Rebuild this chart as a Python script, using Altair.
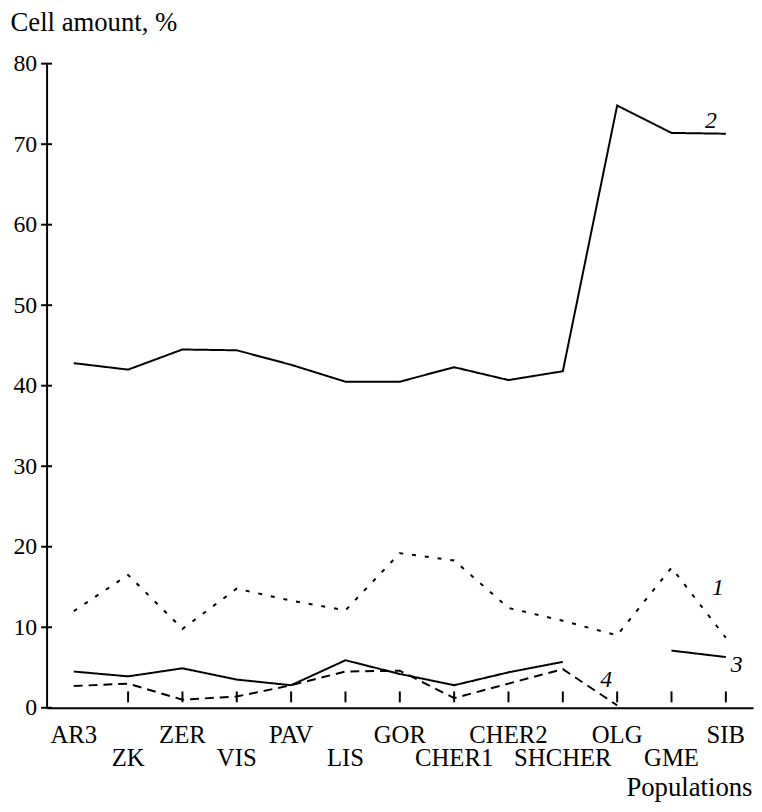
import altair as alt
import pandas as pd

populations = ["AR3", "ZK", "ZER", "VIS", "PAV", "LIS", "GOR", "CHER1", "CHER2",
               "SHCHER", "OLG", "GME", "SIB"]
series_1 = [12.0, 16.5, 9.8, 14.8, 13.3, 12.1, 19.2, 18.3, 12.4, 10.8, 9.0, 17.4, 8.7]
series_2 = [42.8, 42.0, 44.5, 44.4, 42.6, 40.5, 40.5, 42.3, 40.7, 41.8, 74.8, 71.4, 71.3]
series_3 = [4.5, 3.9, 4.9, 3.5, 2.8, 5.9, 4.2, 2.8, 4.4, 5.7, None, 7.1, 6.3]
series_4 = [2.7, 3.0, 1.0, 1.4, 2.8, 4.5, 4.6, 1.2, 3.0, 4.8, 0.3, None, None]
series_names = ["1", "2", "3", "4"]
y_ticks = [0, 10, 20, 30, 40, 50, 60, 70, 80]
lower_row = populations[1::2]

rows = []
for name, vals in zip(series_names, [series_1, series_2, series_3, series_4]):
    seg = 0
    for p, v in zip(populations, vals):
        if v is None:
            seg += 1
            continue
        rows.append({"pop": p, "value": v, "series": name, "key": f"{name}-{seg}"})
df = pd.DataFrame(rows)

FONT = "Liberation Serif"
lower_js = "[" + ",".join(f"'{p}'" for p in lower_row) + "]"
W = 714
H = 651

x_scale = alt.Scale(type="band", domain=populations, paddingInner=0, paddingOuter=0)
y_scale = alt.Scale(domain=[0, 80], nice=False)

x_axis = alt.Axis(
    title="Populations",
    titleAngle=0,
    titleAlign="right",
    titleBaseline="alphabetic",
    titleX=713,
    titleY=89,
    titleFont=FONT,
    titleFontSize=27,
    titleFontWeight="normal",
    titleColor="black",
    ticks=False,
    domainWidth=2,
    domainColor="black",
    labelAngle=0,
    labelAlign="center",
    labelBaseline="top",
    labelPadding=15,
    labelLineHeight=23,
    labelFont=FONT,
    labelFontSize=25,
    labelColor="black",
    labelOverlap=False,
    labelBound=False,
    labelFlush=False,
    labelExpr=f"indexof({lower_js}, datum.value) >= 0 ? ['', datum.label] : datum.label",
    grid=False,
    zindex=0,
)

y_axis = alt.Axis(
    values=y_ticks,
    title="Cell amount, %",
    titleAngle=0,
    titleAlign="left",
    titleBaseline="alphabetic",
    titleX=-37,
    titleY=-34,
    titleFont=FONT,
    titleFontSize=27,
    titleFontWeight="normal",
    titleColor="black",
    ticks=False,
    domainWidth=2,
    domainColor="black",
    labelPadding=10,
    labelFont=FONT,
    labelFontSize=24,
    labelColor="black",
    labelBaseline="middle",
    grid=False,
    zindex=0,
)

x_enc = alt.X("pop:N", sort=populations, bandPosition=0.5, scale=x_scale, axis=x_axis)
y_enc = alt.Y("value:Q", scale=y_scale, axis=y_axis)

lines = alt.Chart(df).mark_line(color="black", strokeWidth=2).encode(
    x=x_enc,
    y=y_enc,
    strokeDash=alt.StrokeDash(
        "series:N",
        scale=alt.Scale(domain=series_names, range=[[4, 9], [1, 0], [1, 0], [9, 6]]),
        legend=None,
    ),
    detail="key:N",
)

# inward ticks at band boundaries on the x axis
x_ticks = alt.Chart(pd.DataFrame({"pop": populations[1:]})).mark_rect(
    color="#000000", opacity=1, width=2, height=11
).encode(
    x=alt.X("pop:N", sort=populations, bandPosition=0, scale=x_scale, axis=x_axis),
    y=alt.value(H - 11),
)

# inward ticks on the y axis
y_tick_marks = alt.Chart(pd.DataFrame({"value": y_ticks})).mark_rect(
    color="#000000", opacity=1, width=11, height=2
).encode(
    y=alt.Y("value:Q", scale=y_scale, axis=y_axis),
    x=alt.value(0),
)


def tag(text, pop, val, dx):
    d = pd.DataFrame({"pop": [pop], "value": [val], "t": [text]})
    return alt.Chart(d).mark_text(
        font=FONT, fontStyle="italic", fontSize=24, color="black",
        align="center", baseline="alphabetic", dx=dx,
    ).encode(x=x_enc, y=y_enc, text="t:N")


chart = alt.layer(
    lines,
    x_ticks,
    y_tick_marks,
    tag("2", "SIB", 72.0, -15),
    tag("1", "SIB", 14.0, -8),
    tag("3", "SIB", 4.4, 11),
    tag("4", "OLG", 2.6, -11),
).properties(
    width=W,
    height=H,
    autosize=alt.AutoSizeParams(type="none"),
    padding={"left": 39, "top": 52, "right": 1, "bottom": 93},
).configure(font=FONT).configure_view(stroke=None).configure_axis(
    titleFont=FONT, labelFont=FONT
)

chart.save("out.html", embed_options={"renderer": "svg", "actions": False})
